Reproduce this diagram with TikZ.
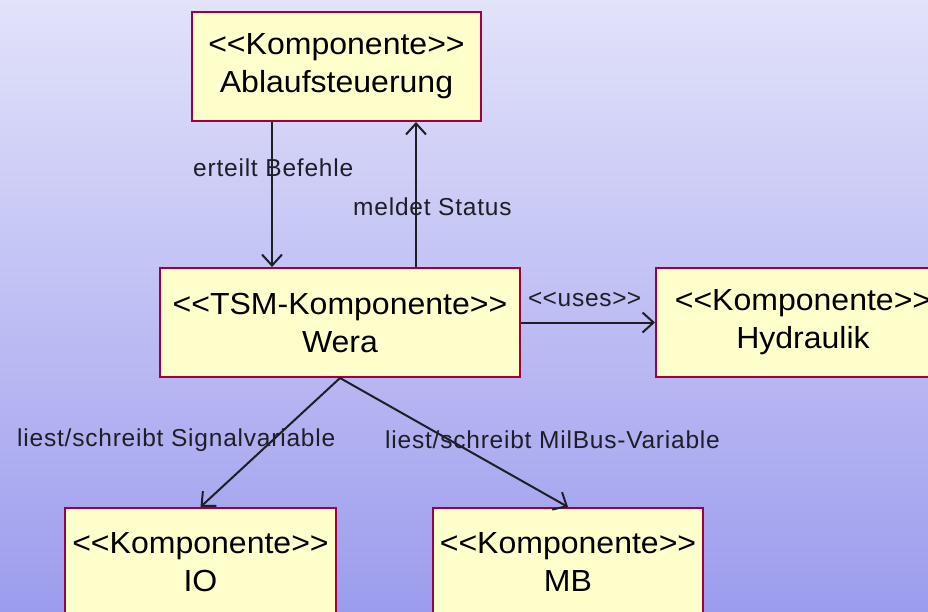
\documentclass[tikz,border=0pt]{standalone}
\usepackage{fontspec}
\setmainfont{Liberation Sans}
\newfontfamily\boxfont{Liberation Sans}[FakeStretch=1.05]
\newfontfamily\lblfont{Liberation Sans}[LetterSpace=3.2]
\usetikzlibrary{arrows.meta,calc}
\newcommand\myLL{<\kern0pt<}
\newcommand\myGG{>\kern0pt>}
\definecolor{bgtop}{RGB}{226,226,250}
\definecolor{bgbot}{RGB}{156,156,238}
\definecolor{boxfill}{RGB}{255,255,204}
\definecolor{boxline}{RGB}{160,0,64}
\definecolor{linecol}{RGB}{30,30,40}
\tikzset{
  comp/.style={draw=boxline, line width=2pt, fill=boxfill, rectangle,
    minimum height=109pt, inner sep=0pt, align=center,
    font=\boxfont\fontsize{30.5}{38}\selectfont, text=black},
  lbl/.style={font=\lblfont\fontsize{24.5}{28}\selectfont, text=linecol, inner sep=0pt, anchor=west},
  arr/.style={draw=linecol, line width=2pt, -{Straight Barb[length=11pt,width=20pt,line width=2pt]}}
}
\begin{document}
\begin{tikzpicture}[x=1pt,y=-1pt]
\useasboundingbox (0,0) rectangle (928,612);
\shade[top color=bgtop, bottom color=bgbot] (0,0) rectangle (928,612);
\node[comp, minimum width=289pt] (abl) at (336.5,66.5) {\myLL Komponente\myGG\\Ablaufsteuerung};
\node[comp, minimum width=360pt] (wera) at (340,322.5) {\myLL TSM-Komponente\myGG\\Wera};
\node[comp, minimum width=294pt] (hyd) at (803,322.5) {\myLL Komponente\myGG\\Hydraulik};
\node[comp, minimum width=271pt] (io) at (200.5,562.5) {\myLL Komponente\myGG\\IO};
\node[comp, minimum width=270pt] (mb) at (568,562.5) {\myLL Komponente\myGG\\MB};
\coordinate (c1) at (272,0);
\coordinate (c2) at (416,0);
\draw[arr] (abl.south -| c1) -- (wera.north -| c1);
\draw[arr] (wera.north -| c2) -- (abl.south -| c2);
\draw[arr] (wera.east) -- (hyd.west);
\draw[arr] (wera.south) -- (io.north);
\draw[arr] (wera.south) -- (mb.north);
\node[lbl] (l1) at (193,168) {erteilt Befehle};
\node[lbl] (l2) at (353,207) {meldet Status};
\node[lbl] (l3) at (528,299) {\myLL uses\myGG};
\node[lbl] (l4) at (17,440) {liest/schreibt Signalvariable};
\node[lbl] (l5) at (385,440) {liest/schreibt MilBus-Variable};
\end{tikzpicture}
\end{document}
